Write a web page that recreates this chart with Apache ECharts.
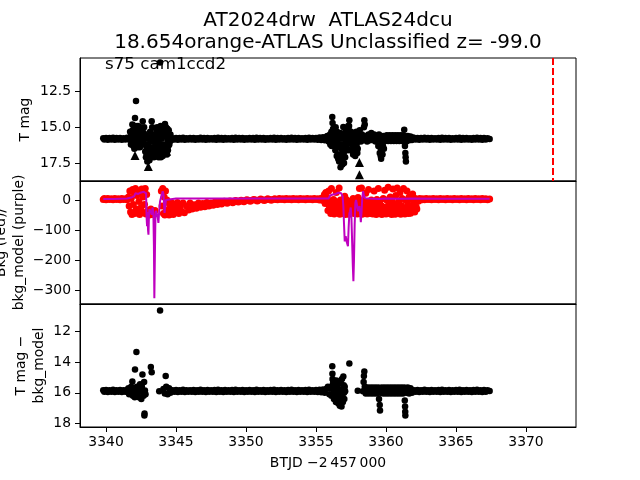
<!DOCTYPE html>
<html><head><meta charset="utf-8">
<script src="https://cdn.jsdelivr.net/npm/echarts@6/dist/echarts.min.js"></script>
<style>html,body{margin:0;padding:0;background:#fff}#c{width:640px;height:480px}</style>
</head><body><div id="c"></div>
<script>
// ---- text ----
const titleLine1 = 'AT2024drw  ATLAS24dcu';
const titleLine2 = '18.654orange-ATLAS Unclassified z= -99.0';
const sectorLabel = 's75 cam1ccd2';
const xLabel = 'BTJD \u22122\u2009457\u2009000';
const yLabelTop = 'T mag';
const yLabelMid = 'Bkg (red)/\nbkg_model (purple)';
const yLabelBot = 'T mag \u2212\nbkg_model';

// ---- ticks ----
const timeTicks = [3340, 3345, 3350, 3355, 3360, 3365, 3370];
const magTicks = [12.5, 15.0, 17.5];
const bkgTicks = [0, -100, -200, -300];
const diffTicks = [12, 14, 16, 18];

// ---- vertical marker ----
const limitTime = 3371.9;

// ---- top panel: T mag (circles) ----
const magPoints = [
[3339.8,15.76],[3339.875,15.86],[3340.0,15.74],[3340.125,15.87],[3340.25,15.75],[3340.375,15.86],[3340.5,15.73],[3340.625,15.87],[3340.75,15.75],[3340.875,15.85],
[3341.0,15.74],[3341.125,15.87],[3341.25,15.76],[3341.375,15.86],[3341.5,15.73],[3341.625,15.85],[3341.75,15.76],
[3341.8,15.5],[3341.85,16.1],[3341.9,15.2],[3341.95,16.3],[3342.0,14.9],[3342.02,16.5],[3342.07,14.35],[3342.1,15.6],[3342.14,13.15],[3342.18,16.0],
[3342.22,15.1],[3342.26,16.4],[3342.3,15.4],[3342.35,15.9],[3342.4,15.5],[3342.45,16.1],[3342.5,15.7],[3342.55,15.3],[3342.62,14.58],[3342.66,15.9],
[3342.7,15.4],[3342.75,16.2],[3342.8,16.7],[3342.85,17.1],[3342.9,16.4],[3342.95,17.4],[3343.0,15.8],[3343.05,16.9],[3343.1,17.3],[3343.15,15.3],
[3343.2,16.6],[3343.26,14.58],[3343.3,15.0],[3343.35,16.0],[3343.4,16.8],[3343.45,15.5],[3343.5,17.0],[3343.55,16.3],[3343.6,15.2],[3343.65,15.0],
[3343.7,16.5],[3343.75,17.1],[3343.8,15.6],[3343.86,10.46],[3343.9,14.9],[3343.95,16.7],[3344.0,15.3],[3344.05,17.0],[3344.1,16.2],[3344.15,15.1],
[3344.21,14.76],[3344.25,16.5],[3344.3,15.4],[3344.35,16.9],[3344.4,15.9],[3344.45,16.3],[3344.5,15.6],[3344.55,16.0],
[3341.72,15.3],[3341.78,16.2],[3341.88,14.8],[3341.98,15.7],[3342.04,16.1],[3342.12,14.9],[3342.16,15.4],[3342.2,16.3],[3342.28,14.9],[3342.32,16.0],
[3342.38,15.2],[3342.42,16.4],[3342.48,15.0],[3342.58,15.8],[3342.72,15.0],[3342.78,15.6],[3342.82,16.2],[3342.88,16.8],[3342.92,15.6],[3342.98,16.2],
[3343.02,17.0],[3343.08,16.4],[3343.12,15.8],[3343.18,17.0],[3343.24,16.0],[3343.32,15.6],[3343.38,16.4],[3343.42,17.1],[3343.48,15.9],[3343.52,16.6],
[3343.58,15.6],[3343.62,16.9],[3343.68,15.4],[3343.72,16.0],[3343.78,16.6],[3343.82,15.2],[3343.88,16.2],[3343.92,17.1],[3343.98,15.8],[3344.02,16.4],
[3344.08,14.9],[3344.12,16.7],[3344.18,15.6],[3344.28,15.0],[3344.32,16.2],[3344.38,15.1],[3344.42,16.6],[3344.48,15.2],[3344.52,16.2],[3344.6,15.5],[3344.65,15.9],
[3344.75,15.76],[3344.875,15.86],
[3345.0,15.74],[3345.125,15.87],[3345.25,15.75],[3345.375,15.86],[3345.5,15.73],[3345.625,15.87],[3345.75,15.76],[3345.875,15.85],
[3346.0,15.75],[3346.125,15.86],[3346.25,15.74],[3346.375,15.87],[3346.5,15.76],[3346.625,15.86],[3346.75,15.73],[3346.875,15.85],
[3347.0,15.75],[3347.125,15.87],[3347.25,15.74],[3347.375,15.86],[3347.5,15.76],[3347.625,15.85],[3347.75,15.74],[3347.875,15.87],
[3348.0,15.73],[3348.125,15.86],[3348.25,15.75],[3348.375,15.87],[3348.5,15.74],[3348.625,15.85],[3348.75,15.76],[3348.875,15.86],
[3349.0,15.74],[3349.125,15.87],[3349.25,15.73],[3349.375,15.86],[3349.5,15.75],[3349.625,15.85],[3349.75,15.74],[3349.875,15.87],
[3350.0,15.76],[3350.125,15.86],[3350.25,15.74],[3350.375,15.85],[3350.5,15.75],[3350.625,15.87],[3350.75,15.73],[3350.875,15.86],
[3351.0,15.75],[3351.125,15.85],[3351.25,15.74],[3351.375,15.87],[3351.5,15.76],[3351.625,15.86],[3351.75,15.74],[3351.875,15.85],
[3352.0,15.73],[3352.125,15.87],[3352.25,15.75],[3352.375,15.86],[3352.5,15.74],[3352.625,15.85],[3352.75,15.76],[3352.875,15.87],
[3353.0,15.74],[3353.125,15.86],[3353.25,15.73],[3353.375,15.85],[3353.5,15.75],[3353.625,15.87],[3353.75,15.74],[3353.875,15.86],
[3354.0,15.76],[3354.125,15.85],[3354.25,15.74],[3354.375,15.87],[3354.5,15.73],[3354.625,15.86],[3354.75,15.75],[3354.875,15.85],
[3355.0,15.74],[3355.125,15.87],[3355.25,15.72],[3355.375,15.88],[3355.5,15.7],[3355.625,15.9],[3355.75,15.68],
[3355.8,15.6],[3355.9,16.0],[3356.0,15.5],[3356.05,15.9],[3356.1,15.3],[3356.16,14.28],[3356.18,14.7],[3356.22,15.1],[3356.3,16.1],[3356.35,15.5],
[3356.4,15.0],[3356.45,16.4],[3356.5,15.3],[3356.55,16.9],[3356.6,15.6],[3356.65,17.4],[3356.7,16.2],[3356.75,17.8],[3356.8,15.8],[3356.85,17.2],
[3356.9,16.6],[3356.95,14.97],[3357.0,17.5],[3357.05,15.4],[3357.1,16.0],[3357.15,15.2],[3357.2,16.5],[3357.25,15.6],[3357.3,14.9],[3357.38,14.5],
[3357.42,15.8],[3357.46,16.6],[3357.5,15.3],[3357.55,16.2],[3357.6,15.7],[3357.65,16.9],[3357.7,15.5],[3357.75,16.4],[3357.8,17.0],[3357.85,15.6],
[3357.9,16.2],[3357.95,16.8],[3358.0,15.4],[3358.05,15.9],[3358.12,15.2],[3358.2,16.0],[3358.28,15.5],[3358.35,15.9],[3358.42,15.0],[3358.45,14.5],
[3358.48,14.8],[3358.55,15.6],[3358.65,16.0],[3358.75,15.5],[3358.85,15.9],[3358.95,15.4],[3359.05,15.8],[3359.15,15.5],[3359.25,16.0],[3359.35,15.6],
[3359.45,16.3],[3359.5,15.5],[3359.55,16.8],[3359.6,15.9],[3359.65,17.2],[3359.7,16.2],[3359.75,16.9],[3359.8,15.6],[3359.85,16.5],[3359.9,15.9],
[3356.02,16.2],[3356.08,15.7],[3356.12,16.3],[3356.26,15.6],[3356.32,15.2],[3356.38,16.6],[3356.42,15.8],[3356.48,17.0],[3356.52,16.0],[3356.58,17.2],
[3356.62,16.4],[3356.68,16.9],[3356.72,15.4],[3356.78,17.4],[3356.82,16.5],[3356.88,17.6],[3356.92,15.6],[3356.98,16.8],[3357.02,16.2],[3357.08,17.1],
[3357.12,15.6],[3357.18,16.2],[3357.22,15.3],[3357.28,16.6],[3357.34,15.2],[3357.36,14.9],[3357.48,16.0],[3357.52,15.6],[3357.58,16.6],[3357.62,15.4],
[3357.68,16.2],[3357.72,16.8],[3357.78,15.8],[3357.82,16.6],[3357.88,15.3],[3357.92,15.9],[3357.98,16.5],[3358.08,15.6],[3358.16,15.7],[3358.24,15.9],
[3358.32,15.6],[3358.6,15.8],[3358.7,15.6],[3358.8,15.8],[3358.9,15.6],[3359.0,15.7],[3359.1,15.9],[3359.2,15.7],[3359.3,15.8],[3359.4,15.7],
[3359.58,16.4],[3359.62,17.0],[3359.68,16.6],[3359.72,15.8],[3359.78,16.3],
[3359.95,15.95],[3360.05,15.55],[3360.15,15.95],[3360.25,15.55],[3360.35,15.95],[3360.45,15.55],[3360.55,15.95],[3360.65,15.55],[3360.75,15.95],[3360.85,15.55],
[3360.95,15.95],[3361.05,15.55],[3361.15,15.95],[3361.25,15.55],[3361.3,15.16],[3361.35,16.3],[3361.38,16.8],[3361.4,17.1],[3361.42,17.4],[3361.45,16.0],
[3360.0,15.75],[3360.1,15.76],[3360.2,15.74],[3360.3,15.75],[3360.4,15.76],[3360.5,15.74],[3360.6,15.75],[3360.7,15.76],[3360.8,15.74],[3360.9,15.75],
[3361.0,15.76],[3361.1,15.74],[3361.2,15.75],
[3361.55,15.6],[3361.65,15.9],[3361.75,15.65],[3361.85,15.88],[3361.95,15.72],
[3362.0,15.76],[3362.125,15.86],[3362.25,15.74],[3362.375,15.87],[3362.5,15.75],[3362.625,15.85],[3362.75,15.73],[3362.875,15.86],
[3363.0,15.75],[3363.125,15.87],[3363.25,15.74],[3363.375,15.86],[3363.5,15.76],[3363.625,15.85],[3363.75,15.74],[3363.875,15.87],
[3364.0,15.73],[3364.125,15.86],[3364.25,15.75],[3364.375,15.85],[3364.5,15.74],[3364.625,15.87],[3364.75,15.76],[3364.875,15.86],
[3365.0,15.74],[3365.125,15.85],[3365.25,15.73],[3365.375,15.87],[3365.5,15.75],[3365.625,15.86],[3365.75,15.74],[3365.875,15.85],
[3366.0,15.76],[3366.125,15.87],[3366.25,15.74],[3366.375,15.86],[3366.5,15.73],[3366.625,15.85],[3366.75,15.75],[3366.875,15.87],
[3367.0,15.74],[3367.125,15.86],[3367.25,15.76],[3367.4,15.82]
];

// ---- top panel: limits (triangles) ----
const magLimits = [[3342.07,16.97],[3343.02,17.75],[3344.33,16.67],[3358.1,17.47],[3358.1,18.33]];

// ---- middle panel: background (red points) ----
const bkgPoints = [
[3339.8,2],[3339.875,5],[3340.0,1],[3340.125,5],[3340.25,2],[3340.375,4],[3340.5,1],[3340.625,5],[3340.75,2],[3340.875,4],
[3341.0,1],[3341.125,5],[3341.25,2],[3341.375,4],[3341.5,1],
[3341.6,10],[3341.65,-20],[3341.7,30],[3341.75,-40],[3341.8,5],[3341.85,-48],[3341.9,35],[3341.95,-15],[3342.0,25],[3342.05,-45],
[3342.1,38],[3342.15,-30],[3342.2,15],[3342.25,-42],[3342.3,30],[3342.35,-5],[3342.4,-48],[3342.45,20],[3342.5,-25],[3342.55,36],
[3342.6,-40],[3342.65,10],[3342.7,28],[3342.75,-15],[3342.8,38],[3342.85,-46],[3342.9,18],
[3343.0,-35],[3343.1,-50],[3343.2,-30],[3343.3,-48],[3343.5,-35],
[3343.95,30],[3344.0,-20],[3344.05,38],[3344.1,-45],[3344.15,10],[3344.2,-50],[3344.25,30],[3344.3,-35],[3344.35,0],
[3344.4,-8],[3344.5,-50],[3344.55,-25],[3344.65,-40],[3344.7,-10],[3344.8,-48],[3344.9,-20],[3345.0,-35],[3345.1,-8],[3345.2,-45],
[3345.3,-22],[3345.4,-38],[3345.5,-10],[3345.6,-42],[3345.75,-20],[3345.9,-33],[3346.0,-10],[3346.15,-30],[3346.3,-16],[3346.45,-27],
[3346.6,-10],[3346.75,-24],[3346.9,-12],[3347.05,-22],[3347.2,-8],[3347.35,-20],[3347.5,-10],[3347.65,-17],[3347.8,-6],[3347.95,-15],
[3348.1,-7],[3348.25,-13],[3348.45,-4],[3348.65,-11],[3348.85,-3],[3349.05,-9],[3349.25,-2],[3349.45,-7],[3349.65,-1],[3349.85,-6],
[3350.05,1],[3350.3,-4],[3350.55,2],[3350.8,-3],[3351.05,3],[3351.3,-2],[3351.55,4],[3351.8,-1],[3352.05,4],
[3348.35,-9],[3348.55,-7],[3348.75,-6],[3348.95,-5],[3349.15,-5],[3349.35,-4],[3349.55,-3],[3349.75,-3],[3349.95,-2],[3350.17,-1],
[3350.42,-1],[3350.67,0],[3350.92,0],[3351.17,1],[3351.42,1],[3351.67,2],[3351.92,2],[3352.15,2],
[3352.25,1],[3352.375,5],[3352.5,2],[3352.625,4],[3352.75,1],[3352.875,5],[3353.0,2],[3353.125,4],[3353.25,1],[3353.375,5],
[3353.5,2],[3353.625,4],[3353.75,1],[3353.875,5],[3354.0,2],[3354.125,4],[3354.25,1],[3354.375,5],[3354.5,2],[3354.625,4],
[3354.75,1],[3354.875,5],[3355.0,2],[3355.125,4],[3355.25,0],[3355.375,6],[3355.5,-2],
[3355.6,18],[3355.65,-12],[3355.7,25],[3355.75,-5],[3355.8,8],[3355.85,-35],[3355.9,30],[3355.95,-20],[3356.0,-5],[3356.05,-45],
[3356.1,38],[3356.15,-12],[3356.2,-32],[3356.25,2],[3356.3,-46],[3356.35,-20],[3356.4,-5],[3356.45,25],[3356.5,-40],[3356.55,-12],
[3356.6,-28],[3356.65,40],[3356.7,-47],[3356.75,0],[3356.8,-30],[3356.85,-15],[3356.9,-45],[3356.95,-5],[3357.0,-36],[3357.05,12],
[3357.1,-48],[3357.15,-20],[3357.2,0],[3357.25,-40],[3357.3,-10],[3357.35,-47],[3357.4,-25],[3357.45,-5],[3357.5,-42],[3357.55,-15],
[3357.6,-32],[3357.65,5],[3357.7,-45],[3357.75,-22],[3357.8,0],[3357.85,-35],[3357.9,-12],[3357.95,-46],[3358.0,8],[3358.05,-28],
[3358.1,38],[3358.15,-42],[3358.2,-10],[3358.25,40],[3358.3,-47],[3358.35,-2],[3358.4,-30],[3358.45,-15],[3358.5,-45],[3358.55,22],
[3358.6,-20],[3358.65,-46],[3358.7,-5],[3358.75,35],[3358.8,-38],[3358.85,-12],[3358.9,-45],[3358.95,0],[3359.0,-25],[3359.05,-46],
[3359.1,-8],[3359.15,30],[3359.2,-40],[3359.25,-15],[3359.3,-48],[3359.35,2],[3359.4,-30],[3359.45,38],[3359.5,-45],[3359.55,-5],
[3359.6,-35],[3359.65,-18],[3359.7,-48],[3359.75,-22],[3359.8,5],[3359.85,-42],[3359.9,32],[3359.95,-25],[3360.0,-46],[3360.05,0],
[3360.1,-35],[3360.15,42],[3360.2,-12],[3360.25,-45],[3360.3,10],[3360.35,-28],[3360.4,-48],[3360.45,-5],[3360.5,36],[3360.55,-40],
[3360.6,-15],[3360.65,-47],[3360.7,15],[3360.75,-25],[3360.8,40],[3360.85,-42],[3360.9,-5],[3360.95,-35],[3361.0,25],[3361.05,-47],
[3361.1,-18],[3361.15,5],[3361.2,-40],[3361.25,38],[3361.3,-28],[3361.35,-46],[3361.4,0],[3361.45,-35],[3361.5,30],[3361.55,-15],
[3361.6,-45],[3361.65,10],[3361.7,-25],[3361.75,-44],[3361.8,2],[3361.85,-32],[3361.9,20],[3361.95,-38],[3362.0,-10],[3362.05,-40],
[3362.1,5],[3362.15,-22],[3362.2,-30],
[3362.3,-4],[3362.4,5],[3362.5,0],[3362.625,4],[3362.75,1],[3362.875,5],[3363.0,2],[3363.125,4],[3363.25,1],[3363.375,5],
[3363.5,2],[3363.625,4],[3363.75,1],[3363.875,5],[3364.0,2],[3364.125,4],[3364.25,1],[3364.375,5],[3364.5,2],[3364.625,4],
[3364.75,1],[3364.875,5],[3365.0,2],[3365.125,4],[3365.25,1],[3365.375,5],[3365.5,2],[3365.625,4],[3365.75,1],[3365.875,5],
[3366.0,2],[3366.125,4],[3366.25,1],[3366.375,5],[3366.5,2],[3366.625,4],[3366.75,1],[3366.875,5],[3367.0,2],[3367.125,4],
[3367.25,1],[3367.4,3]
];

// ---- middle panel: background model (purple line) ----
const modelPoints = [
[3339.8,3],[3340.5,3],[3341.0,4],[3341.5,5],[3341.8,8],[3342.0,12],[3342.1,22],[3342.3,20],[3342.5,25],[3342.7,27],
[3342.8,29],[3342.86,22],[3342.9,-60],[3342.93,-87],[3342.97,-40],[3343.0,-100],[3343.03,-115],[3343.07,-45],[3343.1,-30],[3343.15,-36],
[3343.22,-42],[3343.26,-49],[3343.32,-25],[3343.38,-40],[3343.42,-150],[3343.45,-325],[3343.49,-180],[3343.53,-50],[3343.57,-36],[3343.63,-45],
[3343.7,-60],[3343.74,-76],[3343.8,-35],[3343.86,-4],[3343.95,12],[3344.05,29],[3344.1,20],[3344.14,-10],[3344.18,-43],[3344.23,-20],
[3344.28,0],[3344.35,5],[3345.0,5],[3350.0,5],[3355.9,5],[3356.0,15],[3356.2,18],[3356.4,20],[3356.6,24],[3356.7,26],
[3356.8,22],[3356.9,12],[3356.95,-20],[3357.0,-80],[3357.05,-137],[3357.12,-120],[3357.2,-140],[3357.28,-153],[3357.33,-90],[3357.38,-45],
[3357.43,-37],[3357.48,-25],[3357.53,-60],[3357.58,-140],[3357.63,-220],[3357.67,-269],[3357.71,-200],[3357.76,-80],[3357.81,-10],[3357.86,0],
[3357.9,-10],[3357.95,-25],[3358.0,-37],[3358.05,-30],[3358.1,-20],[3358.15,-45],[3358.2,-73],[3358.25,-40],[3358.3,5],[3358.36,29],
[3358.42,15],[3358.5,6],[3358.8,5],[3359.5,3],[3360.0,5],[3361.0,4],[3362.0,5],[3364.0,4],[3367.4,4]
];

// ---- bottom panel: T mag - bkg_model ----
const diffPoints = [
[3339.8,15.84],[3339.875,15.94],[3340.0,15.82],[3340.125,15.95],[3340.25,15.83],[3340.375,15.94],[3340.5,15.81],[3340.625,15.95],[3340.75,15.83],[3340.875,15.93],
[3341.0,15.82],[3341.125,15.95],[3341.25,15.84],[3341.375,15.94],[3341.5,15.81],
[3341.6,15.7],[3341.65,16.1],[3341.7,15.85],[3341.75,16.0],[3341.8,15.6],[3341.88,15.27],[3341.92,16.2],[3342.0,15.75],[3342.05,16.3],[3342.07,14.47],
[3342.12,15.9],[3342.17,13.33],[3342.2,15.6],[3342.25,16.05],[3342.3,15.8],[3342.35,16.3],[3342.43,15.44],[3342.48,15.9],[3342.52,16.4],[3342.56,15.6],
[3342.6,14.8],[3342.64,15.95],[3342.68,16.2],[3342.72,15.3],[3342.74,17.48],[3342.75,17.35],[3342.78,15.85],[3342.82,16.1],
[3343.2,14.32],[3343.26,14.65],[3343.8,15.9],[3343.86,10.62],[3344.26,14.9],
[3344.1,15.75],[3344.2,16.05],[3344.3,15.6],[3344.4,16.1],[3344.5,15.7],[3344.6,16.0],
[3344.75,15.83],[3344.875,15.94],
[3345.0,15.82],[3345.125,15.95],[3345.25,15.83],[3345.375,15.94],[3345.5,15.81],[3345.625,15.95],[3345.75,15.84],[3345.875,15.93],
[3346.0,15.83],[3346.125,15.94],[3346.25,15.82],[3346.375,15.95],[3346.5,15.84],[3346.625,15.94],[3346.75,15.81],[3346.875,15.93],
[3347.0,15.83],[3347.125,15.95],[3347.25,15.82],[3347.375,15.94],[3347.5,15.84],[3347.625,15.93],[3347.75,15.82],[3347.875,15.95],
[3348.0,15.81],[3348.125,15.94],[3348.25,15.83],[3348.375,15.95],[3348.5,15.82],[3348.625,15.93],[3348.75,15.84],[3348.875,15.94],
[3349.0,15.82],[3349.125,15.95],[3349.25,15.81],[3349.375,15.94],[3349.5,15.83],[3349.625,15.93],[3349.75,15.82],[3349.875,15.95],
[3350.0,15.84],[3350.125,15.94],[3350.25,15.82],[3350.375,15.93],[3350.5,15.83],[3350.625,15.95],[3350.75,15.81],[3350.875,15.94],
[3351.0,15.83],[3351.125,15.93],[3351.25,15.82],[3351.375,15.95],[3351.5,15.84],[3351.625,15.94],[3351.75,15.82],[3351.875,15.93],
[3352.0,15.81],[3352.125,15.95],[3352.25,15.83],[3352.375,15.94],[3352.5,15.82],[3352.625,15.93],[3352.75,15.84],[3352.875,15.95],
[3353.0,15.82],[3353.125,15.94],[3353.25,15.81],[3353.375,15.93],[3353.5,15.83],[3353.625,15.95],[3353.75,15.82],[3353.875,15.94],
[3354.0,15.84],[3354.125,15.93],[3354.25,15.82],[3354.375,15.95],[3354.5,15.81],[3354.625,15.94],[3354.75,15.83],[3354.875,15.93],
[3355.0,15.82],[3355.125,15.95],[3355.25,15.8],[3355.375,15.97],[3355.5,15.78],[3355.625,16.0],[3355.75,15.74],
[3355.85,15.6],[3355.95,16.1],[3356.05,15.7],[3356.1,16.2],[3356.16,14.26],[3356.17,14.75],[3356.18,15.1],[3356.2,15.45],[3356.25,15.9],[3356.3,16.1],
[3356.35,15.5],[3356.4,16.3],[3356.45,15.2],[3356.5,16.5],[3356.55,15.7],[3356.6,16.7],[3356.65,15.3],[3356.7,16.85],[3356.75,15.9],[3356.8,16.6],
[3356.85,15.1],[3356.9,16.3],[3356.95,14.94],[3357.0,16.0],[3357.05,15.6],[3357.38,14.08],[3357.98,15.87],
[3356.22,15.2],[3356.28,16.4],[3356.32,15.4],[3356.38,16.0],[3356.42,16.6],[3356.48,15.6],[3356.52,16.2],[3356.58,15.4],[3356.62,16.2],[3356.68,15.8],
[3356.72,16.5],[3356.78,15.4],[3356.82,16.9],[3356.88,15.8],[3356.92,16.6],[3356.98,15.5],[3357.02,16.4],[3357.08,15.9],
[3358.35,15.9],[3358.4,15.3],[3358.42,14.9],[3358.45,14.6],[3358.48,15.6],[3358.55,16.05],[3358.65,15.65],[3358.75,16.05],[3358.85,15.65],[3358.95,16.05],
[3359.05,15.65],[3359.15,16.05],[3359.25,15.65],[3359.35,16.05],[3359.45,15.65],[3359.5,16.4],[3359.55,16.8],[3359.57,17.16],[3359.6,16.0],[3359.7,15.65],
[3359.8,16.05],[3359.9,15.65],[3360.0,16.05],[3360.1,15.65],[3360.2,16.05],[3360.3,15.65],[3360.4,16.05],[3360.5,15.65],[3360.6,16.05],[3360.7,15.65],
[3360.8,16.05],[3360.9,15.65],[3361.0,16.05],[3361.1,15.65],[3361.2,16.05],[3361.3,15.65],[3361.34,16.5],[3361.36,16.9],[3361.37,17.25],[3361.38,17.48],
[3358.6,15.85],[3358.7,15.86],[3358.8,15.84],[3358.9,15.85],[3359.0,15.86],[3359.1,15.84],[3359.2,15.85],[3359.3,15.86],[3359.4,15.84],[3359.75,15.85],
[3359.85,15.86],[3359.95,15.84],[3360.05,15.85],[3360.15,15.86],[3360.25,15.84],[3360.35,15.85],[3360.45,15.86],[3360.55,15.84],[3360.65,15.85],[3360.75,15.86],
[3360.85,15.84],[3360.95,15.85],[3361.05,15.86],[3361.15,15.84],[3361.25,15.85],[3361.5,15.85],[3361.6,15.86],[3361.7,15.84],[3361.8,15.85],[3361.9,15.86],
[3361.45,16.0],[3361.55,15.65],[3361.65,16.05],[3361.75,15.7],[3361.85,16.0],
[3362.0,15.83],[3362.125,15.94],[3362.25,15.82],[3362.375,15.95],[3362.5,15.83],[3362.625,15.93],[3362.75,15.81],[3362.875,15.94],
[3363.0,15.83],[3363.125,15.95],[3363.25,15.82],[3363.375,15.94],[3363.5,15.84],[3363.625,15.93],[3363.75,15.82],[3363.875,15.95],
[3364.0,15.81],[3364.125,15.94],[3364.25,15.83],[3364.375,15.93],[3364.5,15.82],[3364.625,15.95],[3364.75,15.84],[3364.875,15.94],
[3365.0,15.82],[3365.125,15.93],[3365.25,15.81],[3365.375,15.95],[3365.5,15.83],[3365.625,15.94],[3365.75,15.82],[3365.875,15.93],
[3366.0,15.84],[3366.125,15.95],[3366.25,15.82],[3366.375,15.94],[3366.5,15.81],[3366.625,15.93],[3366.75,15.83],[3366.875,15.95],
[3367.0,15.82],[3367.125,15.94],[3367.25,15.84],[3367.4,15.88]
];

// ---- chart ----
const FONT = 'DejaVu Sans';
const chart = echarts.init(document.getElementById('c'), null, {renderer: 'canvas'});
const gridBase = {left: 80, width: 496, height: 123, show: true, borderColor: '#000', borderWidth: 1};
const tickLabel = {fontFamily: FONT, fontSize: 13.9, color: '#000'};
function minus(v) { return v < 0 ? '\u2212' + Math.abs(v) : String(v); }
function xAx(i, showLabels) {
  return {
    type: 'value', gridIndex: i, min: 3338.14, max: 3373.57,
    axisLine: {show: true, onZero: false, lineStyle: {color: '#000', width: 1}},
    axisTick: {show: showLabels, customValues: timeTicks, length: 5, lineStyle: {color: '#000'}},
    axisLabel: Object.assign({show: showLabels, customValues: timeTicks, margin: 8, formatter: v => String(v)}, tickLabel),
    splitLine: {show: false},
    name: showLabels ? xLabel : '', nameLocation: 'middle', nameGap: 29,
    nameTextStyle: {fontFamily: FONT, fontSize: 13.9, color: '#000'}
  };
}
function yAx(i, min, max, inv, ticks, fmt) {
  return {
    type: 'value', gridIndex: i, min: min, max: max, inverse: inv,
    axisLine: {show: true, onZero: false, lineStyle: {color: '#000', width: 1}},
    axisTick: {show: true, customValues: ticks, length: 5, lineStyle: {color: '#000'}},
    axisLabel: Object.assign({customValues: ticks, margin: 9, formatter: fmt}, tickLabel),
    splitLine: {show: false}
  };
}
function vText(x, y, txt) {
  return {type: 'text', x: x, y: y, rotation: Math.PI / 2, silent: true,
    style: {text: txt, font: '13.9px "DejaVu Sans"', fill: '#000', align: 'center', verticalAlign: 'middle',
      textAlign: 'center', textVerticalAlign: 'middle', lineHeight: 18}};
}
function hText(x, y, txt, size, align) {
  return {type: 'text', x: x, y: y, silent: true,
    style: {text: txt, font: size + 'px "DejaVu Sans"', fill: '#000', align: align, verticalAlign: 'middle',
      textAlign: align, textVerticalAlign: 'middle'}};
}
const option = {
  animation: false,
  backgroundColor: '#fff',
  textStyle: {fontFamily: FONT},
  grid: [
    Object.assign({top: 58}, gridBase),
    Object.assign({top: 181}, gridBase),
    Object.assign({top: 304}, gridBase)
  ],
  xAxis: [xAx(0, false), xAx(1, false), xAx(2, true)],
  yAxis: [
    yAx(0, 10.14, 18.76, true, magTicks, v => v.toFixed(1)),
    yAx(1, -344, 62.8, false, bkgTicks, minus),
    yAx(2, 10.19, 18.24, true, diffTicks, v => String(v))
  ],
  series: [
    {type: 'scatter', xAxisIndex: 0, yAxisIndex: 0, data: magPoints, symbol: 'circle', symbolSize: 6.5,
     itemStyle: {color: '#000', opacity: 1}, silent: true,
     markLine: {silent: true, symbol: ['none', 'none'], label: {show: false},
       lineStyle: {color: '#ff0000', type: [7, 3], width: 2, opacity: 1}, data: [{xAxis: limitTime}]}},
    {type: 'scatter', xAxisIndex: 0, yAxisIndex: 0, data: magLimits, symbol: 'triangle', symbolSize: 9,
     itemStyle: {color: '#000', opacity: 1}, silent: true},
    {type: 'scatter', xAxisIndex: 1, yAxisIndex: 1, data: bkgPoints, symbol: 'circle', symbolSize: 7,
     itemStyle: {color: '#ff0000', opacity: 1}, silent: true},
    {type: 'line', xAxisIndex: 1, yAxisIndex: 1, data: modelPoints, showSymbol: false, symbol: 'none',
     lineStyle: {color: '#bf00bf', width: 2}, itemStyle: {color: '#bf00bf'}, z: 5, silent: true},
    {type: 'scatter', xAxisIndex: 2, yAxisIndex: 2, data: diffPoints, symbol: 'circle', symbolSize: 6.5,
     itemStyle: {color: '#000', opacity: 1}, silent: true}
  ],
  graphic: [
    hText(328, 20.5, titleLine1, 20, 'center'),
    hText(328, 42.5, titleLine2, 20, 'center'),
    hText(105, 64.5, sectorLabel, 16.7, 'left'),
    vText(25, 119.5, yLabelTop),
    vText(10, 242.5, yLabelMid),
    vText(30, 365.5, yLabelBot)
  ]
};
chart.setOption(option);
</script>
</body></html>
